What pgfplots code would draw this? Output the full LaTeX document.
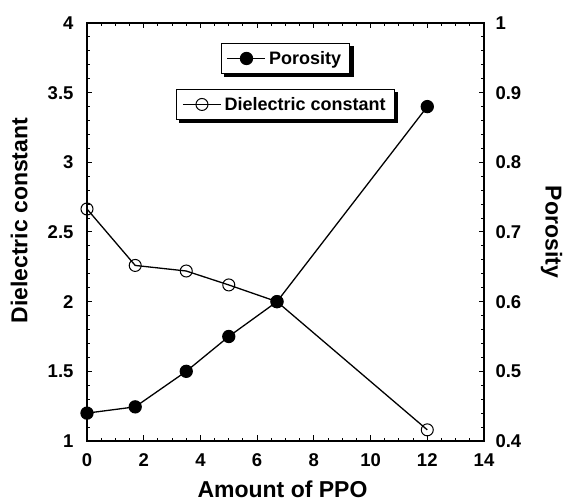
\documentclass[border=0pt]{standalone}
\usepackage{pgfplots}
\pgfplotsset{compat=1.18}
\usepackage{fontspec}
\setmainfont{Liberation Sans}

% shared look of all axes
\pgfplotsset{
  base/.style={
    scale only axis, width=397pt, height=418pt,
    xmin=0, xmax=14,
    axis line style={line width=1.6pt},
    every tick/.style={black, line width=1pt},
    major tick length=5.5pt, minor tick length=3pt,
    tick align=inside,
    /pgf/number format/assume math mode=true,
    tick label style={font=\boldmath\bfseries\fontsize{18.5}{18.5}\selectfont},
    legend style={font=\bfseries\fontsize{18}{18}\selectfont,
      draw=black, line width=1.3pt, fill=white,
      inner xsep=5.5pt, inner ysep=4.5pt, nodes={inner sep=3pt}},
    legend image code/.code={
      \draw[mark repeat=2, mark phase=2, #1] plot coordinates {(0pt,0pt) (19pt,0pt) (38pt,0pt)};},
  },
  % black copy of a legend in an axis placed 3pt lower right, used as its shadow
  shadowleg/.style={base, hide axis, ymin=0, ymax=1, at={(3.2pt,-3.2pt)}, anchor=south west,
    legend style={fill=black, draw=black, text=black, anchor=north, at={#1}}},
  diel/.style={black, line width=1.3pt, mark=o, mark size=6pt, mark options={line width=1pt, fill=white}},
  poro/.style={black, line width=1.3pt, mark=*, mark size=6pt, mark options={fill=black}},
}

\begin{document}
\begin{tikzpicture}
\path[use as bounding box] (-87pt,-61pt) rectangle (478pt,441pt);

\begin{axis}[shadowleg={(0.5,0.842)}]
\addlegendimage{diel}
\addlegendentry{Dielectric constant}
\end{axis}
\begin{axis}[shadowleg={(0.5,0.952)}]
\addlegendimage{poro}
\addlegendentry{Porosity}
\end{axis}

\begin{axis}[base, at={(0pt,0pt)}, anchor=south west,
  ymin=1, ymax=4,
  ytick={1,1.5,2,2.5,3,3.5,4}, minor y tick num=4,
  xtick={0,2,4,6,8,10,12,14}, minor x tick num=3,
  ytick pos=left,
  yticklabel style={xshift=-10pt},
  xticklabel style={yshift=-9.5pt},
  xlabel={Amount of PPO}, ylabel={Dielectric constant},
  every axis x label/.style={at={(axis description cs:0.4924,-0.134)}, anchor=base,
    font=\bfseries\fontsize{23}{23}\selectfont},
  every axis y label/.style={at={(axis description cs:-0.171,0.527)}, anchor=center, rotate=90,
    font=\bfseries\fontsize{23}{23}\selectfont},
  legend style={at={(0.5,0.842)}, anchor=north},
]
\addplot[diel]
  coordinates {(0,2.665) (1.7,2.26) (3.5,2.22) (5,2.12) (6.7,2.0) (12,1.08)};
\addlegendentry{Dielectric constant}
\end{axis}

\begin{axis}[base, at={(0pt,0pt)}, anchor=south west,
  axis x line=none, axis y line*=right,
  ymin=0.4, ymax=1,
  ytick={0.4,0.5,0.6,0.7,0.8,0.9,1}, minor y tick num=4,
  yticklabel style={xshift=8pt},
  ylabel={Porosity},
  every axis y label/.style={at={(axis description cs:1.170,0.5)}, anchor=center, rotate=-90,
    font=\bfseries\fontsize{23}{23}\selectfont},
  legend style={at={(0.5,0.952)}, anchor=north},
]
\addplot[poro]
  coordinates {(0,0.44) (1.7,0.449) (3.5,0.50) (5,0.55) (6.7,0.60) (12,0.88)};
\addlegendentry{Porosity}
\end{axis}
\end{tikzpicture}
\end{document}
